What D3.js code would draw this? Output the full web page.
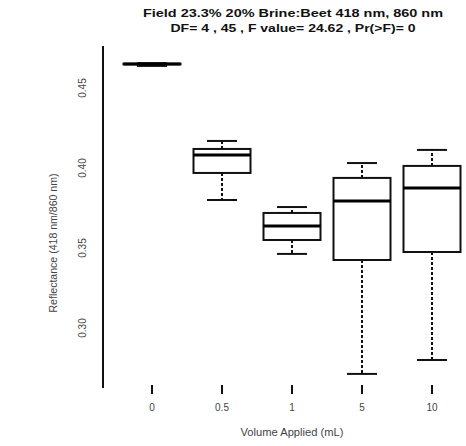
<!DOCTYPE html>
<html>
<head>
<meta charset="utf-8">
<script src="https://cdn.jsdelivr.net/npm/d3@7"></script>
<style>
  html, body { margin: 0; padding: 0; background: #fff; }
  svg { display: block; }
  text { font-family: "Liberation Sans", Arial, sans-serif; }
</style>
</head>
<body>
<svg id="chart" width="466" height="446"></svg>
<script>
// Volume groups and five-number summaries of reflectance ratio
const categories = ["0", "0.5", "1", "5", "10"];
const whiskerLow  = [0.4638, 0.3800, 0.3463, 0.2713, 0.2800];
const boxLow      = [0.4648, 0.3969, 0.3550, 0.3425, 0.3475];
const medians     = [0.4650, 0.4081, 0.3638, 0.3794, 0.3875];
const boxHigh     = [0.4652, 0.4119, 0.3719, 0.3938, 0.4013];
const whiskerHigh = [0.4655, 0.4169, 0.3756, 0.4031, 0.4113];
const yTicks = [0.30, 0.35, 0.40, 0.45];

const titleLines = [
  "Field 23.3% 20% Brine:Beet 418 nm, 860 nm",
  "DF= 4 , 45 , F value= 24.62 , Pr(>F)= 0"
];
const titleWidths = [300, 245];
const xTitle = "Volume Applied (mL)";
const yTitle = "Reflectance (418 nm/860 nm)";

const svg = d3.select("#chart");

const x = d3.scalePoint().domain(categories).range([152, 432]);
const y = d3.scaleLinear().domain([0.30, 0.45]).range([328, 88]);

const boxHalf = 28.5, capHalf = 15;

const groups = categories.map((c, i) => ({
  c, lo: whiskerLow[i], q1: boxLow[i], med: medians[i], q3: boxHigh[i], hi: whiskerHigh[i]
}));

const g = svg.append("g");
const box = g.selectAll("g.box").data(groups).join("g").attr("class", "box");

// whiskers (dashed)
box.append("line")
  .attr("x1", d => x(d.c)).attr("x2", d => x(d.c))
  .attr("y1", d => y(d.q3)).attr("y2", d => y(d.hi))
  .attr("stroke", "#111").attr("stroke-width", 2).attr("stroke-dasharray", "3,2");
box.append("line")
  .attr("x1", d => x(d.c)).attr("x2", d => x(d.c))
  .attr("y1", d => y(d.q1)).attr("y2", d => y(d.lo))
  .attr("stroke", "#111").attr("stroke-width", 2).attr("stroke-dasharray", "3,2");
// whisker caps
box.append("line")
  .attr("x1", d => x(d.c) - capHalf).attr("x2", d => x(d.c) + capHalf)
  .attr("y1", d => y(d.hi)).attr("y2", d => y(d.hi))
  .attr("stroke", "#111").attr("stroke-width", 2);
box.append("line")
  .attr("x1", d => x(d.c) - capHalf).attr("x2", d => x(d.c) + capHalf)
  .attr("y1", d => y(d.lo)).attr("y2", d => y(d.lo))
  .attr("stroke", "#111").attr("stroke-width", 2);
// box
box.append("rect")
  .attr("x", d => x(d.c) - boxHalf).attr("width", boxHalf * 2)
  .attr("y", d => y(d.q3)).attr("height", d => y(d.q1) - y(d.q3))
  .attr("fill", "#fff").attr("stroke", "#111").attr("stroke-width", 2);
// median
box.append("line")
  .attr("x1", d => x(d.c) - boxHalf).attr("x2", d => x(d.c) + boxHalf)
  .attr("y1", d => y(d.med)).attr("y2", d => y(d.med))
  .attr("stroke", "#000").attr("stroke-width", 3);

// y axis: line with rotated labels
svg.append("line").attr("x1", 103).attr("x2", 103).attr("y1", 46).attr("y2", 388)
  .attr("stroke", "#111").attr("stroke-width", 2);
svg.selectAll("text.ytick").data(yTicks).join("text")
  .attr("class", "ytick")
  .attr("transform", d => `translate(86,${y(d)}) rotate(-90)`)
  .attr("text-anchor", "middle")
  .attr("font-size", 10).attr("fill", "#444")
  .text(d => d.toFixed(2));

// x axis: tick marks and labels
svg.selectAll("line.xtick").data(categories).join("line")
  .attr("class", "xtick")
  .attr("x1", d => x(d)).attr("x2", d => x(d))
  .attr("y1", 385).attr("y2", 394)
  .attr("stroke", "#111").attr("stroke-width", 2);
svg.selectAll("text.xtick").data(categories).join("text")
  .attr("class", "xtick")
  .attr("x", d => x(d)).attr("y", 411)
  .attr("text-anchor", "middle")
  .attr("font-size", 10).attr("fill", "#444")
  .text(d => d);

// axis titles
svg.append("text").attr("x", 292).attr("y", 436)
  .attr("text-anchor", "middle").attr("font-size", 10).attr("fill", "#444")
  .attr("textLength", 103).attr("lengthAdjust", "spacingAndGlyphs")
  .text(xTitle);
svg.append("text")
  .attr("transform", "translate(57,243) rotate(-90)")
  .attr("text-anchor", "middle").attr("font-size", 10).attr("fill", "#444")
  .attr("textLength", 139).attr("lengthAdjust", "spacingAndGlyphs")
  .text(yTitle);

// title
svg.selectAll("text.title").data(titleLines).join("text")
  .attr("class", "title")
  .attr("x", 293).attr("y", (d, i) => 17 + i * 15)
  .attr("text-anchor", "middle")
  .attr("font-size", 11).attr("font-weight", "bold").attr("fill", "#111")
  .attr("textLength", (d, i) => titleWidths[i]).attr("lengthAdjust", "spacingAndGlyphs")
  .text(d => d);
</script>
</body>
</html>
